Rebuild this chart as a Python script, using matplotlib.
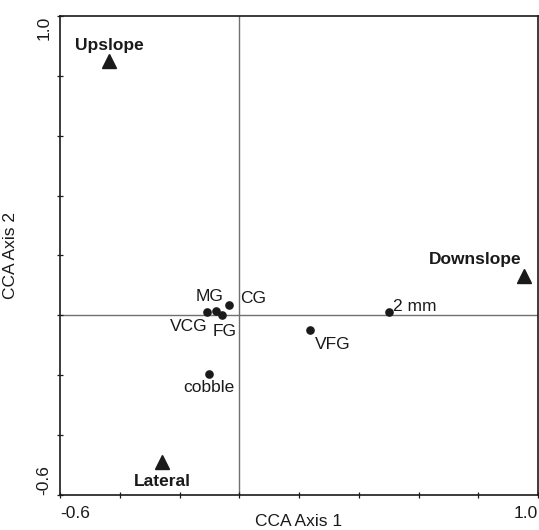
import matplotlib
matplotlib.use("Agg")
import matplotlib.pyplot as plt
import numpy as np

plt.rcParams['font.family'] = ['Liberation Sans', 'DejaVu Sans']

# sites (triangles)
site_names = ["Upslope", "Lateral", "Downslope"]
site_x = [-0.435, -0.258, 0.953]
site_y = [0.849, -0.489, 0.130]

# grain size classes (dots)
grain_names = ["MG", "VCG", "FG", "CG", "2 mm", "VFG", "cobble"]
grain_x = [-0.078, -0.109, -0.057, -0.034, 0.501, 0.238, -0.100]
grain_y = [0.016, 0.010, 0.000, 0.033, 0.012, -0.050, -0.195]

ink = "#1a1a1a"
fs = 12.5

fig = plt.figure(figsize=(5.39, 5.30), dpi=100)
ax = fig.add_axes([60/539, 35/530, 478/539, 479/530])

ax.axhline(0, color="#707070", lw=1.0, zorder=1)
ax.axvline(0, color="#707070", lw=1.0, zorder=1)

ax.plot(grain_x, grain_y, "o", color=ink, ms=5.2, zorder=3)
ax.plot(site_x, site_y, "^", color=ink, ms=10.5, zorder=3)

# label offsets in points (dx, dy, ha)
px = 0.72
grain_off = {
    "MG": (-6*px, 14*px, "center"),
    "VCG": (1*px, -14*px, "right"),
    "FG": (2*px, -16*px, "center"),
    "CG": (11*px, 7*px, "left"),
    "2 mm": (4*px, 5*px, "left"),
    "VFG": (5*px, -14*px, "left"),
    "cobble": (0, -14*px, "center"),
}
for n, x, y in zip(grain_names, grain_x, grain_y):
    dx, dy, ha = grain_off[n]
    ax.annotate(n, (x, y), xytext=(dx, dy), textcoords="offset points",
                ha=ha, va="center", fontsize=fs, color=ink)

site_off = {
    "Upslope": (0, 16*px, "center"),
    "Lateral": (0, -20*px, "center"),
    "Downslope": (-2*px, 17*px, "right"),
}
for n, x, y in zip(site_names, site_x, site_y):
    dx, dy, ha = site_off[n]
    ax.annotate(n, (x, y), xytext=(dx, dy), textcoords="offset points",
                ha=ha, va="center", fontsize=fs, color=ink, fontweight="bold")

ax.set_xlim(-0.6, 1.0)
ax.set_ylim(-0.6, 1.0)
ax.set_xticks([-0.6, 1.0])
ax.set_yticks([-0.6, 1.0])
ax.set_xticklabels(["-0.6", "1.0"])
ax.set_yticklabels(["-0.6", "1.0"], rotation=90)
minor = np.arange(-0.4, 0.9, 0.2)
ax.set_xticks(minor, minor=True)
ax.set_yticks(minor, minor=True)
ax.tick_params(which="both", direction="inout", length=4, width=0.9, color=ink,
               labelsize=fs, labelcolor=ink)
ax.tick_params(axis="x", pad=6)
ax.tick_params(axis="y", pad=4)

xl = ax.get_xticklabels()
xl[0].set_ha("left")
xl[-1].set_ha("right")
yl = ax.get_yticklabels()
yl[0].set_va("bottom")
yl[-1].set_va("top")

for s in ax.spines.values():
    s.set_color(ink)
    s.set_linewidth(1.2)

ax.set_xlabel("CCA Axis 1", fontsize=fs, color=ink, va="center")
ax.set_ylabel("CCA Axis 2", fontsize=fs, color=ink, va="center")
ax.xaxis.set_label_coords(0.5, -27/479)
ax.yaxis.set_label_coords(-49/478, 0.5)

fig.savefig("out.png", dpi=100)
